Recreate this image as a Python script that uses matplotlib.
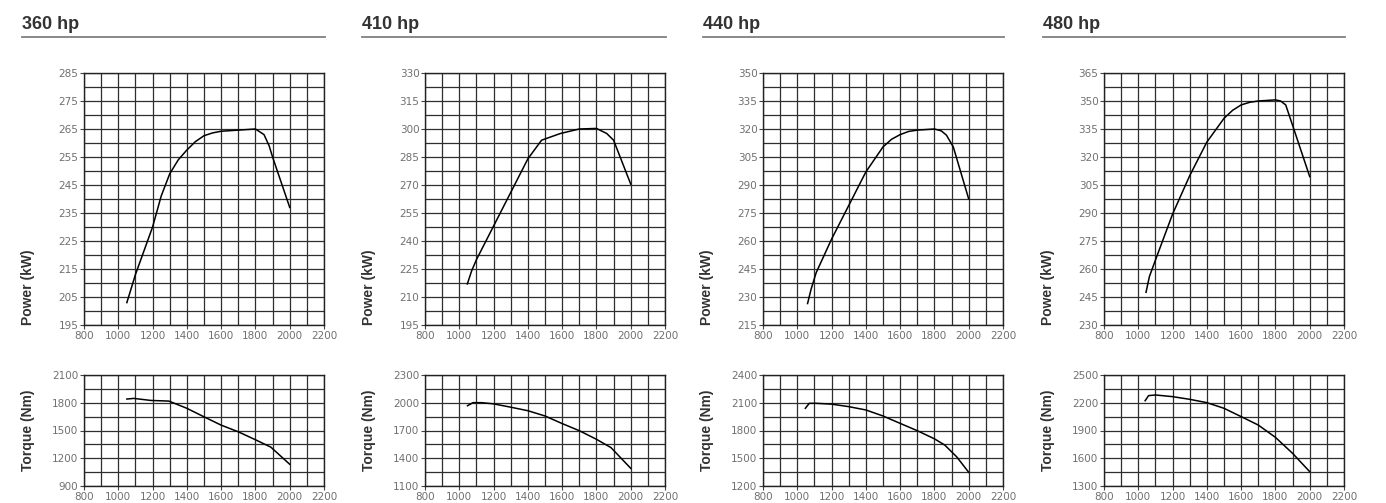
import matplotlib
matplotlib.use("Agg")
import matplotlib.pyplot as plt
import numpy as np

titles = ["360 hp", "410 hp", "440 hp", "480 hp"]

# power curves (rpm, kW)
p_rpm = [
    [1050, 1100, 1200, 1250, 1300, 1350, 1400, 1450, 1500, 1550, 1600, 1700, 1800, 1850, 1880, 1900, 2000],
    [1047, 1072, 1100, 1200, 1300, 1400, 1480, 1590, 1700, 1800, 1860, 1900, 2000],
    [1060, 1080, 1110, 1200, 1300, 1400, 1500, 1550, 1600, 1650, 1700, 1800, 1840, 1870, 1910, 2000],
    [1045, 1065, 1105, 1200, 1300, 1400, 1500, 1550, 1600, 1650, 1700, 1800, 1830, 1860, 1900, 2000],
]
p_kw = [
    [203, 213, 230, 241, 249, 254, 257.5, 260.5, 262.6, 263.6, 264.2, 264.6, 265, 263, 259, 255, 237],
    [217, 224, 230, 248, 266, 284, 294, 297.6, 300, 300.3, 297.6, 294, 270.5],
    [226.5, 234, 243, 261, 279, 297, 310.4, 314.5, 317, 318.7, 319.4, 320, 319, 316.7, 310.4, 282.5],
    [247.5, 256, 266, 289.4, 310, 328, 340.7, 345, 347.9, 349.3, 350, 350.6, 350, 347.9, 337, 309.5],
]

# torque curves (rpm, Nm)
t_rpm = [
    [1050, 1090, 1190, 1295, 1400, 1500, 1600, 1700, 1800, 1890, 2000],
    [1048, 1080, 1130, 1200, 1300, 1400, 1500, 1600, 1700, 1800, 1885, 2000],
    [1047, 1070, 1110, 1200, 1300, 1400, 1500, 1600, 1700, 1800, 1860, 1930, 2000],
    [1040, 1060, 1100, 1200, 1300, 1400, 1500, 1600, 1700, 1800, 1900, 2000],
]
t_nm = [
    [1840, 1847, 1825, 1818, 1740, 1648, 1558, 1486, 1400, 1320, 1135],
    [1968, 2001, 2001, 1988, 1952, 1914, 1857, 1775, 1698, 1605, 1515, 1291],
    [2040, 2094, 2094, 2085, 2058, 2022, 1957, 1877, 1798, 1710, 1643, 1515, 1348],
    [2222, 2277, 2284, 2266, 2237, 2201, 2140, 2050, 1959, 1826, 1653, 1455],
]

# axis ranges (min, max, major step)
p_lim = [(195, 285, 10), (195, 330, 15), (215, 350, 15), (230, 365, 15)]
t_lim = [(900, 2100, 300), (1100, 2300, 300), (1200, 2400, 300), (1300, 2500, 300)]

W, H = 1386, 503
fig = plt.figure(figsize=(W / 100, H / 100), dpi=100)
fig.patch.set_facecolor("white")

lefts = [84, 425, 763, 1104]
title_x = [22, 362, 703, 1043]
aw = 240

tick_col = "#707070"
grid_col = "#2e2e2e"
text_col = "#333333"


def style(ax, lo, hi, step):
    ax.set_xlim(800, 2200)
    ax.set_ylim(lo, hi)
    ax.set_xticks(np.arange(800, 2201, 200))
    ax.set_xticks(np.arange(800, 2201, 100), minor=True)
    ax.set_yticks(np.arange(lo, hi + 0.1, step))
    ax.set_yticks(np.arange(lo, hi + 0.1, step / 2), minor=True)
    ax.grid(True, which="both", color=grid_col, linewidth=0.9)
    ax.set_axisbelow(True)
    for s in ax.spines.values():
        s.set_color("#222222")
        s.set_linewidth(1.0)
    ax.tick_params(which="major", length=3, width=0.8, color="#444444",
                   labelsize=7.5, labelcolor=tick_col, pad=1)
    ax.tick_params(which="minor", length=0)
    ax.set_yticklabels([f"{v:g}" for v in np.arange(lo, hi + 0.1, step)])


for i in range(4):
    x0 = lefts[i] / W
    axp = fig.add_axes([x0, 1 - 325 / H, aw / W, 252 / H])
    style(axp, *p_lim[i])
    axp.plot(p_rpm[i], p_kw[i], color="black", linewidth=1.1)

    axt = fig.add_axes([x0, 1 - 486 / H, aw / W, 111 / H])
    style(axt, *t_lim[i])
    axt.plot(t_rpm[i], t_nm[i], color="black", linewidth=1.1)

    lx = (lefts[i] - 56) / W
    fig.text(lx, 1 - 325 / H, "Power (kW)", rotation=90, ha="center",
             va="bottom", fontsize=10, fontweight="bold", color=text_col,
             family="Liberation Sans")
    fig.text(lx, 1 - 430 / H, "Torque (Nm)", rotation=90, ha="center",
             va="center", fontsize=10, fontweight="bold", color=text_col,
             family="Liberation Sans")

    fig.text(title_x[i] / W, 1 - 29 / H, titles[i], fontsize=13,
             fontweight="bold", color=text_col, va="baseline", ha="left",
             family="Liberation Sans")
    fig.add_artist(plt.Line2D([title_x[i] / W, (lefts[i] + aw + 1) / W],
                              [1 - 37 / H, 1 - 37 / H],
                              color="#808080", linewidth=1.3))

fig.savefig("out.png", dpi=100, facecolor="white")
